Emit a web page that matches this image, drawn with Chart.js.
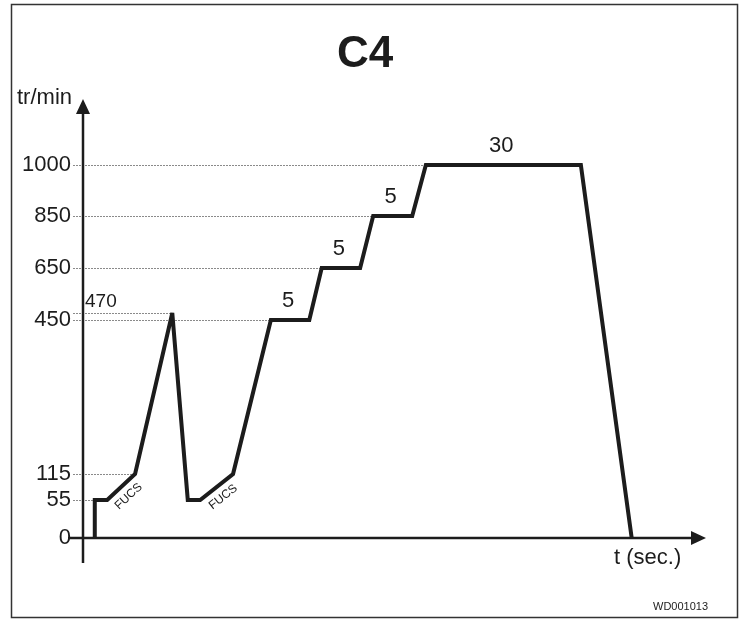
<!DOCTYPE html>
<html>
<head>
<meta charset="utf-8">
<script src="https://cdn.jsdelivr.net/npm/chart.js@4/dist/chart.umd.min.js"></script>
<style>
  html, body { margin: 0; padding: 0; background: #fff; }
  #wrap { width: 746px; height: 619px; }
</style>
</head>
<body>
<div id="wrap"><canvas id="c4-chart"></canvas></div>
<script>
// C4 speed profile - schematic, time axis has no real units
const timeT = [1.9, 1.9, 3.9, 8.4, 14.4, 16.9, 18.9, 24.2, 30.3, 36.5, 38.5, 44.7, 46.8, 53.1, 55.3, 80.3, 88.5];
const rpm = [0, 55, 55, 115, 470, 55, 55, 115, 450, 450, 650, 650, 850, 850, 1000, 1000, 0];
const yTicks = [0, 55, 115, 450, 650, 850, 1000];
const guideLevels = [55, 115, 450, 470, 650, 850, 1000];
const holdLabels = ['5', '5', '5', '30'];
const holdStart = [8, 10, 12, 14];
const rampLabels = ['FUCS', 'FUCS'];
const rampStart = [2, 6];

const FONT = '"Liberation Sans", Arial, sans-serif';
const INK = '#1c1c1c';

// y axis of the drawing is not linear, so map values through fixed knots
class RpmScale extends Chart.LinearScale {
  static id = 'rpm';
  static defaults = {};
  toFrac(v) {
    const k = this.options.knots;
    for (let i = 1; i < k.length; i++) {
      if (v <= k[i][0] || i === k.length - 1) {
        const a = k[i - 1], b = k[i];
        return a[1] + (v - a[0]) / (b[0] - a[0]) * (b[1] - a[1]);
      }
    }
  }
  getPixelForValue(v) {
    return this.bottom - this.toFrac(v) * (this.bottom - this.top);
  }
  getValueForPixel(p) {
    const f = (this.bottom - p) / (this.bottom - this.top);
    const k = this.options.knots;
    for (let i = 1; i < k.length; i++) {
      if (f <= k[i][1] || i === k.length - 1) {
        const a = k[i - 1], b = k[i];
        return a[0] + (f - a[1]) / (b[1] - a[1]) * (b[0] - a[0]);
      }
    }
  }
}
Chart.register(RpmScale);

const points = timeT.map((t, i) => ({ x: t, y: rpm[i] }));

const decor = {
  id: 'decor',
  beforeDatasetsDraw(chart) {
    const ctx = chart.ctx;
    const xs = chart.scales.x, ys = chart.scales.y;
    const x0 = xs.getPixelForValue(0), y0 = ys.getPixelForValue(0);
    ctx.save();
    // frame
    ctx.strokeStyle = '#333';
    ctx.lineWidth = 1.5;
    ctx.strokeRect(11.5, 4.5, 726, 613);
    // dotted guides up to the point where the curve reaches each level
    ctx.strokeStyle = '#8a8a8a';
    ctx.lineWidth = 1;
    ctx.setLineDash([2, 1]);
    guideLevels.forEach(v => {
      const idx = rpm.indexOf(v);
      const py = Math.round(ys.getPixelForValue(v)) + 0.5;
      ctx.beginPath();
      ctx.moveTo(73, py);
      ctx.lineTo(xs.getPixelForValue(timeT[idx]), py);
      ctx.stroke();
    });
    ctx.setLineDash([]);
    // axes with arrows
    ctx.strokeStyle = INK;
    ctx.fillStyle = INK;
    ctx.lineWidth = 2.5;
    ctx.beginPath();
    ctx.moveTo(x0, 563);
    ctx.lineTo(x0, 110);
    ctx.moveTo(68, y0);
    ctx.lineTo(695, y0);
    ctx.stroke();
    ctx.beginPath();
    ctx.moveTo(x0, 99);
    ctx.lineTo(x0 - 7, 114);
    ctx.lineTo(x0 + 7, 114);
    ctx.closePath();
    ctx.fill();
    ctx.beginPath();
    ctx.moveTo(706, y0);
    ctx.lineTo(691, y0 - 7);
    ctx.lineTo(691, y0 + 7);
    ctx.closePath();
    ctx.fill();
    ctx.restore();
    // keep the sharp peak from spiking far above its level
    ctx.miterLimit = 2.5;
  },
  afterDatasetsDraw(chart) {
    const ctx = chart.ctx;
    const xs = chart.scales.x, ys = chart.scales.y;
    ctx.save();
    ctx.fillStyle = INK;
    ctx.textBaseline = 'middle';
    ctx.textAlign = 'center';
    ctx.font = 'bold 44px ' + FONT;
    ctx.fillText('C4', 365, 55);
    ctx.font = '22px ' + FONT;
    ctx.textAlign = 'left';
    ctx.fillText('tr/min', 17, 98);
    ctx.fillText('t (sec.)', 614, 558);
    ctx.font = '19px ' + FONT;
    ctx.fillText('470', 85, 302);
    ctx.font = '11px ' + FONT;
    ctx.fillText('WD001013', 653, 607);
    // hold times above the plateaus
    ctx.textAlign = 'center';
    ctx.font = '22px ' + FONT;
    holdLabels.forEach((txt, i) => {
      const a = holdStart[i];
      const px = (xs.getPixelForValue(timeT[a]) + xs.getPixelForValue(timeT[a + 1])) / 2;
      ctx.fillText(txt, px - 2, ys.getPixelForValue(rpm[a]) - 19);
    });
    // ramp notes, written along the ramp
    ctx.font = '12px ' + FONT;
    rampLabels.forEach((txt, i) => {
      const a = rampStart[i];
      const ax = xs.getPixelForValue(timeT[a]), ay = ys.getPixelForValue(rpm[a]);
      const bx = xs.getPixelForValue(timeT[a + 1]), by = ys.getPixelForValue(rpm[a + 1]);
      const ang = Math.atan2(by - ay, bx - ax);
      ctx.save();
      ctx.translate((ax + bx) / 2, (ay + by) / 2);
      ctx.rotate(ang);
      ctx.fillText(txt, -1, 12);
      ctx.restore();
    });
    ctx.restore();
  }
};

new Chart(document.getElementById('c4-chart'), {
  type: 'line',
  data: {
    datasets: [{
      data: points,
      borderColor: INK,
      borderWidth: 4,
      borderJoinStyle: 'miter',
      pointRadius: 0,
      tension: 0,
      clip: false
    }]
  },
  options: {
    responsive: true,
    maintainAspectRatio: false,
    animation: false,
    events: [],
    layout: { padding: { top: 99, right: 43, bottom: 81, left: 0 } },
    scales: {
      x: { type: 'linear', min: 0, max: 100, display: false },
      y: {
        type: 'rpm',
        min: 0,
        max: 1200,
        knots: [[0, 0], [55, 0.0866], [115, 0.1458], [450, 0.4966], [470, 0.5125],
                [650, 0.615], [850, 0.7335], [1000, 0.8497], [1200, 1]],
        afterBuildTicks: s => { s.ticks = yTicks.map(v => ({ value: v })); },
        afterFit: s => { s.width = 83; },
        grid: { display: false, drawTicks: false },
        border: { display: false },
        ticks: {
          padding: 12,
          color: INK,
          font: { family: FONT, size: 22 },
          autoSkip: false,
          callback: v => String(v)
        }
      }
    },
    plugins: {
      legend: { display: false },
      tooltip: { enabled: false }
    }
  },
  plugins: [decor]
});
</script>
</body>
</html>
